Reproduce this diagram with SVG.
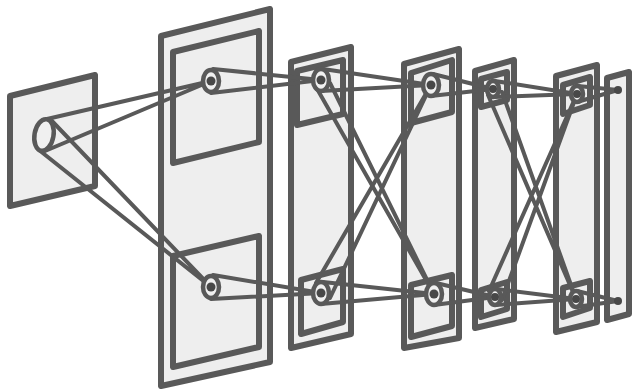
<svg xmlns="http://www.w3.org/2000/svg" width="632" height="389" viewBox="0 0 632 389">
<style>
.p{fill:#eeeeee;stroke:#595959;stroke-width:6;stroke-linejoin:round}
.i{fill:none;stroke:#595959;stroke-width:6;stroke-linejoin:round}
.c{fill:none;stroke:#595959;stroke-width:4;stroke-linecap:round}
.e{fill:#f0f0f0;stroke:#595959;stroke-width:4.5}
.d{fill:#484848}
</style>
<rect width="632" height="389" fill="#ffffff"/>
<g id="plane-1"><polygon class="p" points="10,96 95,75 95,186 10,206"/></g>
<g id="plane-2"><polygon class="p" points="161,36 270,9 270,362 161,386"/><polygon class="i" points="173,52 259,31 259,142 173,163"/><polygon class="i" points="173,256 259,236 259,347 173,367"/></g>
<g id="plane-3"><polygon class="p" points="291,62 351,47 351,334 291,348"/><polygon class="i" points="297,71 343,60 343,114 297,125"/><polygon class="i" points="301,280 343,269 343,322 301,334"/></g>
<g id="plane-4"><polygon class="p" points="404,64 459,49 459,338 404,348"/><polygon class="i" points="411,73 452,60 452,112 411,123"/><polygon class="i" points="411,285 452,275 452,326 411,337"/></g>
<g id="plane-5"><polygon class="p" points="475,71 514,60 514,319 475,328"/><polygon class="i" points="481,79 507,72 507,100 481,107"/><polygon class="i" points="481,290 507,282 507,309 481,317"/></g>
<g id="plane-6"><polygon class="p" points="556,76 597,65 597,322 556,332"/><polygon class="i" points="563,85 590,77 590,105 563,114"/><polygon class="i" points="563,288 590,281 590,308 563,317"/></g>
<g id="plane-7"><polygon class="p" points="607,78 629,72 629,314 607,320"/></g>
<g id="connectors">
<path class="c" d="M47,119L211,81M45,151L211,81M51,120L211,287M39,150L211,287"/>
<path class="c" d="M213,69L321,80M211,93L321,80M213,275L321,293M211,299L321,293"/>
<path class="c" d="M323,69L431,85M321,91L431,85M323,282L434,294M321,304L434,294"/>
<path class="c" d="M330,83L434,294M316,87L434,294M330,298L431,85M316,283L431,85"/>
<path class="c" d="M433,74L493,89M431,96L493,89M436,283L495,297M434,305L495,297"/>
<path class="c" d="M495,81L577,94M493,97L577,94M497,289L576,299M495,305L576,299"/>
<path class="c" d="M502,92L576,299M488,95L576,299M502,300L577,94M489,291L577,94"/>
<path class="c" d="M578,86L618,90M577,102L618,90M577,291L618,301M576,307L618,301"/>
</g>
<g id="cone-1"><ellipse class="e" cx="44" cy="135" rx="9.5" ry="16" transform="rotate(10 44 135)"/></g>
<g id="cone-2a"><ellipse class="e" cx="211" cy="81" rx="8" ry="11"/><circle class="d" cx="211" cy="81" r="4.5"/></g>
<g id="cone-2b"><ellipse class="e" cx="211" cy="287" rx="8" ry="11"/><circle class="d" cx="211" cy="287" r="4.5"/></g>
<g id="cone-3a"><ellipse class="e" cx="321" cy="80" rx="8" ry="11"/><circle class="d" cx="321" cy="80" r="4.5"/></g>
<g id="cone-3b"><ellipse class="e" cx="321" cy="293" rx="8" ry="11"/><circle class="d" cx="321" cy="293" r="4.5"/></g>
<g id="cone-4a"><ellipse class="e" cx="431" cy="85" rx="8" ry="11"/><circle class="d" cx="431" cy="85" r="4.5"/></g>
<g id="cone-4b"><ellipse class="e" cx="434" cy="294" rx="8" ry="11"/><circle class="d" cx="434" cy="294" r="4.5"/></g>
<g id="cone-5a"><ellipse class="e" cx="493" cy="89" rx="6" ry="8"/><circle class="d" cx="493" cy="89" r="4"/></g>
<g id="cone-5b"><ellipse class="e" cx="495" cy="297" rx="6" ry="8"/><circle class="d" cx="495" cy="297" r="4"/></g>
<g id="cone-6a"><ellipse class="e" cx="577" cy="94" rx="6" ry="8"/><circle class="d" cx="577" cy="94" r="4"/></g>
<g id="cone-6b"><ellipse class="e" cx="576" cy="299" rx="6" ry="8"/><circle class="d" cx="576" cy="299" r="4"/></g>
<g id="dot-7a"><circle class="d" cx="618" cy="90" r="4"/></g>
<g id="dot-7b"><circle class="d" cx="618" cy="301" r="4"/></g>
</svg>
